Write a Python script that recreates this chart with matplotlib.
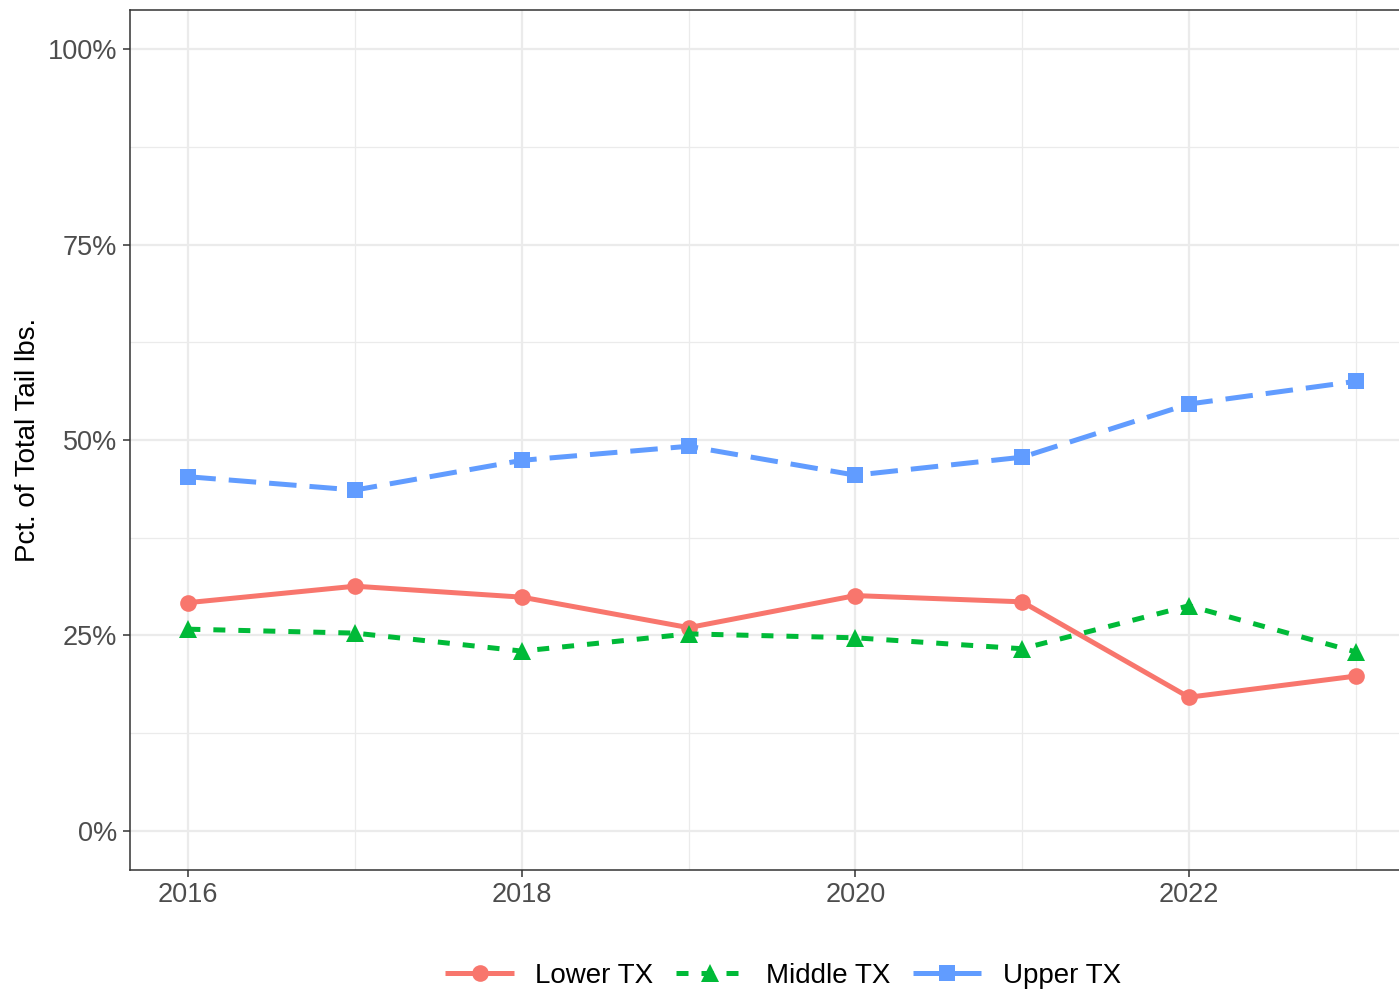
import matplotlib
matplotlib.use("Agg")
import matplotlib.pyplot as plt
from matplotlib.ticker import FuncFormatter, MultipleLocator

plt.rcParams['font.family'] = ['Liberation Sans', 'DejaVu Sans']

years = [2016, 2017, 2018, 2019, 2020, 2021, 2022, 2023]
lower_tx = [29.2, 31.3, 29.9, 26.0, 30.1, 29.3, 17.1, 19.8]
middle_tx = [25.8, 25.3, 23.0, 25.2, 24.7, 23.3, 28.8, 22.9]
upper_tx = [45.3, 43.6, 47.4, 49.2, 45.5, 47.8, 54.6, 57.5]

series = [
    ("Lower TX", lower_tx, "#F8766D", "o", (0, ()), 12),
    ("Middle TX", middle_tx, "#00BA38", "^", (0, (2.4, 2.6)), 13.5),
    ("Upper TX", upper_tx, "#619CFF", "s", (0, (5.5, 2.6)), 11.5),
]

fig = plt.figure(figsize=(13.99, 9.92), dpi=100)
ax = fig.add_axes([130/1399, 1-870/992, (1414-130)/1399, (870-10)/992])

for name, vals, col, mk, ls, ms in series:
    ax.plot(years, vals, color=col, linestyle=ls, linewidth=3.6,
            marker=mk, markersize=ms, label=name, zorder=3,
            markeredgewidth=0)

ax.set_xlim(2015.65, 2023.35)
ax.set_ylim(-5, 105)
ax.xaxis.set_major_locator(MultipleLocator(2))
ax.xaxis.set_minor_locator(MultipleLocator(1))
ax.yaxis.set_major_locator(MultipleLocator(25))
ax.yaxis.set_minor_locator(MultipleLocator(12.5))
ax.yaxis.set_major_formatter(FuncFormatter(lambda v, p: f"{int(v)}%"))
ax.grid(which='major', color='#EBEBEB', linewidth=1.6)
ax.grid(which='minor', color='#EBEBEB', linewidth=0.9)
ax.set_axisbelow(True)
ax.tick_params(which='minor', length=0)
ax.tick_params(which='major', length=5, width=1.1, color='#333333',
               labelcolor='#4D4D4D', labelsize=19.5, pad=4)
for s in ax.spines.values():
    s.set_color('#333333')
    s.set_linewidth(1.1)

ax.set_ylabel("Pct. of Total Tail lbs.", fontsize=20, color='black', labelpad=5)

fig.legend(loc='center', bbox_to_anchor=(783/1399, 1-976/992), ncol=3,
           frameon=False, fontsize=20, handlelength=2.5, columnspacing=0.8,
           handletextpad=0.75)

fig.savefig("out.png", dpi=100)
